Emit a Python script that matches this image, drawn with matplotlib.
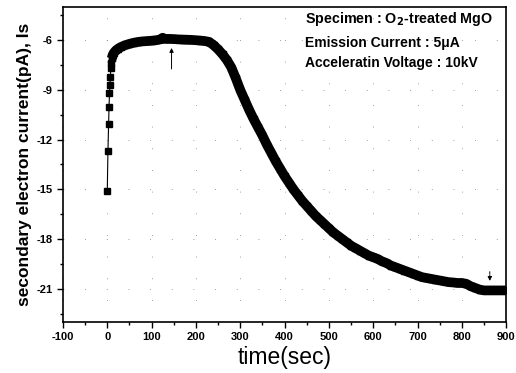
import matplotlib.pyplot as plt
import numpy as np

plt.rcParams['font.family'] = ['Liberation Sans', 'DejaVu Sans']
plt.rcParams['axes.unicode_minus'] = False

# data
time_early = [0, 1.5, 3, 4, 5, 6, 7, 8, 9, 10]
current_early = [-15.1, -12.7, -11.05, -10.0, -9.2, -8.7, -8.2, -7.7, -7.35, -7.1]

time_main = [10, 12, 15, 20, 25, 30, 40, 50, 60, 70, 80, 90, 100, 110, 120, 125,
             130, 140, 150, 160, 170, 180, 190, 200, 210, 220, 230, 240, 250,
             260, 270, 280, 290, 300, 310, 320, 330, 340, 350, 360, 370, 380,
             390, 400, 410, 420, 430, 440, 450, 460, 470, 480, 490, 500, 510,
             520, 530, 540, 550, 560, 570, 580, 590, 600, 610, 620, 630, 640,
             650, 660, 670, 680, 690, 700, 710, 720, 730, 740, 750, 760, 770,
             780, 790, 800, 810, 820, 830, 840, 850, 860, 870, 880, 890, 900]
current_main = [-7.1, -6.9, -6.75, -6.6, -6.5, -6.42, -6.3, -6.22, -6.15, -6.1,
                -6.07, -6.05, -6.03, -6.0, -5.95, -5.85, -5.92, -5.92, -5.93,
                -5.95, -5.96, -5.97, -5.98, -6.0, -6.02, -6.05, -6.1, -6.3,
                -6.55, -6.85, -7.2, -7.65, -8.3, -9.0, -9.6, -10.2, -10.75,
                -11.25, -11.75, -12.3, -12.8, -13.3, -13.75, -14.2, -14.6,
                -15.0, -15.35, -15.7, -16.0, -16.3, -16.6, -16.85, -17.1,
                -17.35, -17.6, -17.8, -18.0, -18.2, -18.4, -18.55, -18.7,
                -18.85, -19.0, -19.1, -19.2, -19.35, -19.45, -19.6, -19.7,
                -19.8, -19.9, -20.0, -20.1, -20.2, -20.3, -20.35, -20.4,
                -20.45, -20.5, -20.55, -20.6, -20.62, -20.65, -20.65, -20.7,
                -20.85, -20.95, -21.05, -21.1, -21.1, -21.1, -21.1, -21.1, -21.1]

x_ticks = np.arange(-100, 901, 100)
y_ticks = [-21, -18, -15, -12, -9, -6]

fig = plt.figure(figsize=(5.16, 3.73), dpi=100)
ax = fig.add_axes([0.122, 0.137, 0.859, 0.844])

ax.plot(time_early, current_early, color='black', lw=0.8, marker='s', ms=4.5)
ax.plot(time_main, current_main, color='black', lw=7, solid_capstyle='butt')
ax.plot(time_main, current_main, color='black', lw=0, marker='s', ms=5)

# arrows
ax.annotate('', xy=(145, -6.3), xytext=(145, -7.9),
            arrowprops=dict(arrowstyle='-|>', color='black', lw=0.7, mutation_scale=6))
ax.annotate('', xy=(863, -20.7), xytext=(863, -19.8),
            arrowprops=dict(arrowstyle='-|>', color='black', lw=0.7, ls=(0, (2, 1)),
                            mutation_scale=6))

ax.text(0.545, 0.962, 'Specimen : O$_\\mathbf{2}$-treated MgO', transform=ax.transAxes,
        fontsize=10.3, fontweight='bold', va='center', ha='left')
ax.text(0.545, 0.885, 'Emission Current : 5\u03bcA', transform=ax.transAxes,
        fontsize=10, fontweight='bold', va='center', ha='left')
ax.text(0.545, 0.822, 'Acceleratin Voltage : 10kV', transform=ax.transAxes,
        fontsize=10, fontweight='bold', va='center', ha='left')

ax.set_xlim(-100, 900)
ax.set_ylim(-23, -4)
ax.set_xticks(x_ticks)
ax.set_yticks(y_ticks)
ax.set_xticks(np.arange(-50, 900, 100), minor=True)
ax.set_yticks(np.arange(-22.5, -4, 3), minor=True)
ax.tick_params(which='both', direction='out', labelsize=8, width=1)
ax.tick_params(which='major', length=4)
ax.tick_params(which='minor', length=2.5)
for lab in ax.get_xticklabels() + ax.get_yticklabels():
    lab.set_fontweight('bold')
for s in ax.spines.values():
    s.set_linewidth(1.2)

ax.grid(True, color='gray', lw=0.6, ls=(0, (1, 25)))

ax.set_xlabel('time(sec)', fontsize=16.5, labelpad=3)
ax.set_ylabel('secondary electron current(pA), Is', fontsize=12.5,
              fontweight='bold', labelpad=3)

fig.savefig('out.png', dpi=100)
